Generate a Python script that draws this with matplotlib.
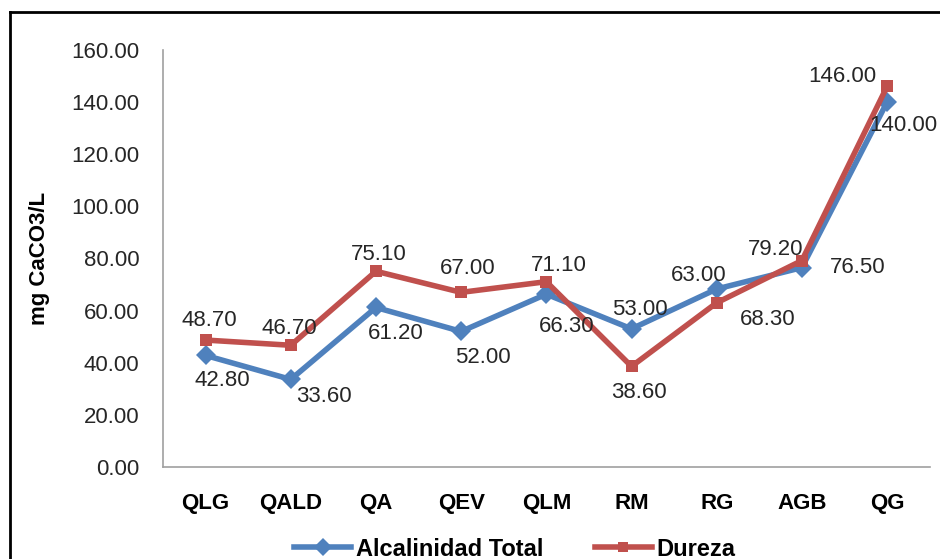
import matplotlib
matplotlib.use("Agg")
import matplotlib.pyplot as plt
from matplotlib.lines import Line2D

plt.rcParams['font.family'] = ['Liberation Sans', 'DejaVu Sans']

# Sampling stations and measured values (mg CaCO3/L)
stations = ["QLG", "QALD", "QA", "QEV", "QLM", "RM", "RG", "AGB", "QG"]
alcalinidad = [42.80, 33.60, 61.20, 52.00, 66.30, 53.00, 68.30, 76.50, 140.00]
dureza = [48.70, 46.70, 75.10, 67.00, 71.10, 38.60, 63.00, 79.20, 146.00]
yticks = [0, 20, 40, 60, 80, 100, 120, 140, 160]

# Label placement offsets (points) relative to each marker
alc_offsets = [(12, -18), (24, -12), (14, -19), (16, -19), (15, -23),
               (6, 14), (37, -22), (40, 0), (12, -17)]
dur_offsets = [(3, 14), (-1, 12), (2, 12), (5, 17), (9, 12),
               (5, -19), (-13, 20), (-19, 8), (-32, 7)]

blue = "#4F81BD"
red = "#C0504D"
text_color = "#262626"

fig = plt.figure(figsize=(9.4, 5.59), dpi=100)
ax = fig.add_axes([0.1734, 0.1646, 0.989 - 0.1734, 0.9106 - 0.1646])

x = list(range(len(stations)))
ax.plot(x, alcalinidad, color=blue, lw=4, marker="D", ms=10,
        markeredgewidth=0, label="Alcalinidad Total", zorder=3)
ax.plot(x, dureza, color=red, lw=4, marker="s", ms=8,
        markeredgewidth=0, label="Dureza", zorder=4)

for xi, v, off in zip(x, alcalinidad, alc_offsets):
    ax.annotate(f"{v:.2f}", (xi, v), xytext=off, textcoords="offset points",
                ha="center", va="center", fontsize=16, color=text_color, zorder=5)
for xi, v, off in zip(x, dureza, dur_offsets):
    ax.annotate(f"{v:.2f}", (xi, v), xytext=off, textcoords="offset points",
                ha="center", va="center", fontsize=16, color=text_color, zorder=5)

ax.set_xlim(-0.5, len(stations) - 0.5)
ax.set_ylim(0, 160)
ax.set_yticks(yticks)
ax.set_yticklabels([f"{t:.2f}" for t in yticks], fontsize=16, color=text_color)
ax.set_xticks(x)
ax.set_xticklabels(stations, fontsize=16, fontweight="bold", color="black")
ax.tick_params(axis="y", length=0, pad=17)
ax.tick_params(axis="x", length=0, pad=19)

for s in ["top", "right"]:
    ax.spines[s].set_visible(False)
for s in ["left", "bottom"]:
    ax.spines[s].set_color("#A0A0A0")
    ax.spines[s].set_linewidth(1.2)

fig.text(40 / 940, 1 - 258 / 559, "mg CaCO3/L", rotation=90, ha="center",
         va="center", fontsize=16, fontweight="bold")

handles = [
    Line2D([], [], color=blue, lw=4, marker="D", ms=9, markeredgewidth=0),
    Line2D([], [], color=red, lw=4, marker="s", ms=7.5, markeredgewidth=0),
]
fig.legend(handles, ["Alcalinidad Total", "Dureza"], loc="center",
           bbox_to_anchor=(515 / 940, 1 - 549 / 559), ncol=2, frameon=False,
           prop={"size": 17, "weight": "bold"}, handlelength=2.4,
           handletextpad=0.2, columnspacing=2.2, borderpad=0)

# Outer frame lines on the left and top edges
fig.add_artist(Line2D([10 / 940, 10 / 940], [0, 1 - 12 / 559],
                      transform=fig.transFigure, color="black", lw=2))
fig.add_artist(Line2D([10 / 940, 1], [1 - 12 / 559, 1 - 12 / 559],
                      transform=fig.transFigure, color="black", lw=2))

fig.savefig("out.png", dpi=100)
